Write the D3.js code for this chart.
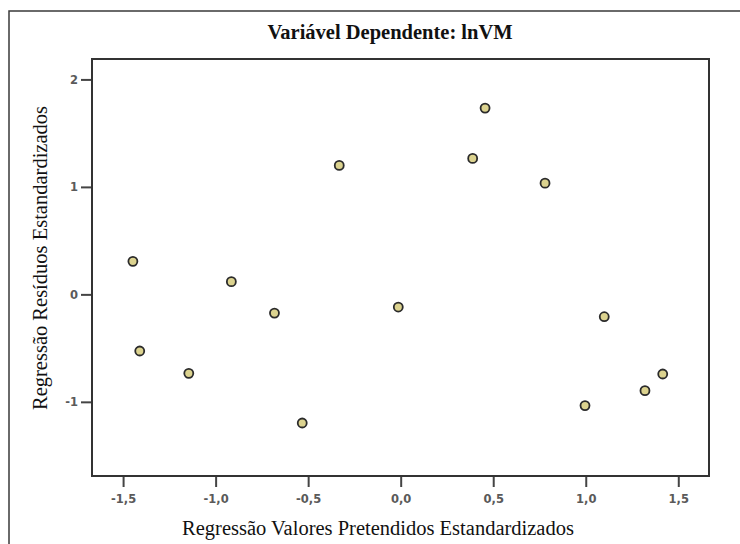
<!DOCTYPE html>
<html>
<head>
<meta charset="utf-8">
<script src="https://cdn.jsdelivr.net/npm/d3@7"></script>
<style>
  body { margin: 0; background: #fff; }
  .tick text { font-family: "DejaVu Sans", Verdana, sans-serif; font-size: 11.5px; font-weight: bold; fill: #5a5a5a; }
</style>
</head>
<body>
<svg id="chart" width="740" height="544"></svg>
<script>
// standardized predicted values (x) and standardized residuals (y)
const predicted = [-1.447, -1.41, -1.145, -0.915, -0.682, -0.532, -0.332, -0.013,
                   0.389, 0.456, 0.78, 0.996, 1.10, 1.32, 1.416];
const residuals = [0.307, -0.527, -0.735, 0.118, -0.174, -1.197, 1.2, -0.118,
                   1.265, 1.733, 1.035, -1.035, -0.208, -0.896, -0.741];
const xTicks = [-1.5, -1.0, -0.5, 0.0, 0.5, 1.0, 1.5];
const yTicks = [-1, 0, 1, 2];
const title = "Variável Dependente: lnVM";
const xLabel = "Regressão Valores Pretendidos Estandardizados";
const yLabel = "Regressão Resíduos Estandardizados";

const svg = d3.select("#chart");
const plot = {left: 92, top: 59, right: 709, bottom: 476};
const serif = "'Liberation Serif', 'Times New Roman', serif";

// outer frame, runs off the right and bottom edges
svg.append("rect")
    .attr("x", 9).attr("y", 11)
    .attr("width", 800).attr("height", 600)
    .attr("fill", "none")
    .attr("stroke", "#3a3a3a")
    .attr("stroke-width", 1.5);

const x = d3.scaleLinear().domain([-1.668, 1.666]).range([plot.left, plot.right]);
const y = d3.scaleLinear().domain([-1.69, 2.19]).range([plot.bottom, plot.top]);

const fmt = d => d3.format(".1f")(d).replace(".", ",").replace("−", "-");

const axisX = d3.axisBottom(x).tickValues(xTicks).tickSize(11).tickPadding(8).tickFormat(fmt);
const axisY = d3.axisLeft(y).tickValues(yTicks).tickSize(11).tickPadding(3).tickFormat(d => String(d).replace("−", "-"));

const gx = svg.append("g").attr("transform", `translate(0,${plot.bottom})`).call(axisX);
const gy = svg.append("g").attr("transform", `translate(${plot.left},0)`).call(axisY);
[gx, gy].forEach(g => {
    g.select(".domain").remove();
    g.selectAll(".tick line").attr("stroke", "#444").attr("stroke-width", 2);
});

// plot frame
svg.append("rect")
    .attr("x", plot.left).attr("y", plot.top)
    .attr("width", plot.right - plot.left).attr("height", plot.bottom - plot.top)
    .attr("fill", "none")
    .attr("stroke", "#333")
    .attr("stroke-width", 2);

svg.append("g").selectAll("circle")
    .data(d3.zip(predicted, residuals))
    .join("circle")
    .attr("cx", d => x(d[0]))
    .attr("cy", d => y(d[1]))
    .attr("r", 4.5)
    .attr("fill", "#dcd38f")
    .attr("stroke", "#2b2b2b")
    .attr("stroke-width", 1.8);

svg.append("text")
    .attr("x", 390).attr("y", 39)
    .attr("text-anchor", "middle")
    .attr("font-family", serif)
    .attr("font-weight", "bold")
    .attr("font-size", 20.5)
    .attr("fill", "#111")
    .text(title);

svg.append("text")
    .attr("x", 378).attr("y", 535)
    .attr("text-anchor", "middle")
    .attr("font-family", serif)
    .attr("font-size", 20.5)
    .attr("fill", "#111")
    .text(xLabel);

svg.append("text")
    .attr("transform", "translate(47,258) rotate(-90)")
    .attr("text-anchor", "middle")
    .attr("font-family", serif)
    .attr("font-size", 20.5)
    .attr("fill", "#111")
    .text(yLabel);
</script>
</body>
</html>
